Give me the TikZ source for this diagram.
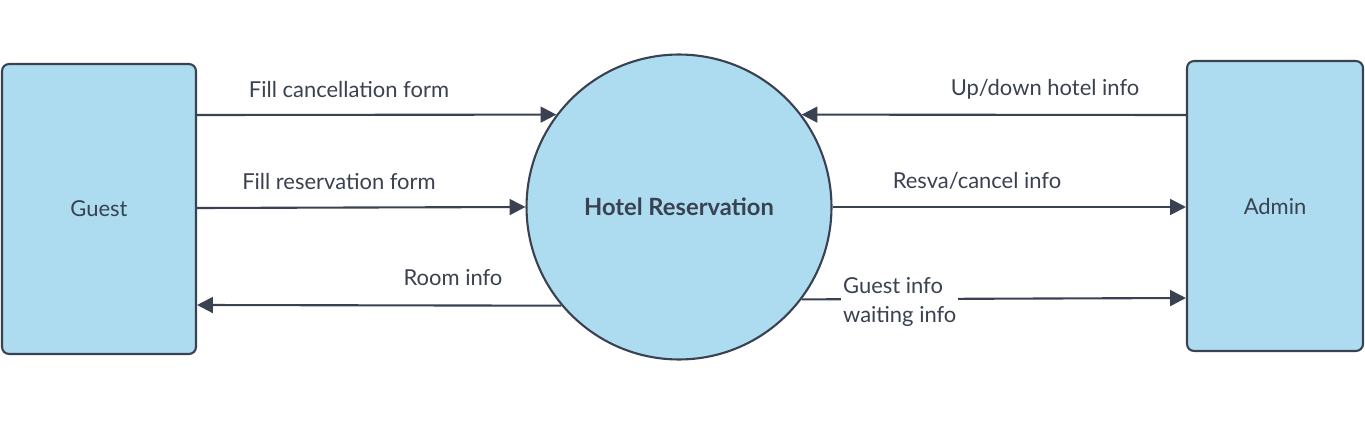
\documentclass[tikz,border=0pt]{standalone}
\usepackage{fontspec}
\setmainfont{Lato}
\usetikzlibrary{arrows.meta}
\definecolor{boxfill}{HTML}{ADDCF1}
\definecolor{edge}{HTML}{3A4150}
\begin{document}
\begin{tikzpicture}[x=0.02cm,y=-0.02cm,
	entity/.style={draw=edge,fill=boxfill,line width=1.2pt,rounded corners=4pt,
		minimum width=3.88cm,minimum height=5.8cm},
	process/.style={circle,draw=edge,fill=boxfill,line width=1.2pt,minimum size=6.1cm,
		font=\fontsize{13.5}{16}\selectfont\bfseries},
	flow/.style={draw=edge,line width=1.2pt,-{Triangle[length=9pt,width=9pt]}},
	lbl/.style={text=edge,font=\fontsize{12.5}{17}\selectfont,inner sep=0pt}]
	\useasboundingbox (0,0) rectangle (1365,432);
	\node[entity] (guest) at (99,209) {\textcolor{edge}{\fontsize{12.5}{15}\selectfont Guest}};
	\node[entity,minimum width=3.52cm] (admin) at (1275,206) {\textcolor{edge}{\fontsize{12.5}{15}\selectfont Admin}};
	\node[process] (hotel) at (679,207) {\textcolor{edge}{Hotel Reservation}};
	% guest side
	\draw[flow] (guest.east |- 0,115) -- (hotel.143);
	\draw[flow] (guest.east |- 0,208) -- (hotel.west);
	\draw[flow] (hotel.220) -- (guest.east |- 0,305);
	\node[lbl] (cancel) at (349,90) {Fill cancellation form};
	\node[lbl] (reserve) at (339,182) {Fill reservation form};
	\node[lbl] (room) at (453,278) {Room info};
	% admin side
	\draw[flow] (admin.west |- 0,115) -- (hotel.37);
	\draw[flow] (hotel.east) -- (admin.west |- 0,207);
	\draw[flow] (hotel.-37) -- (admin.west |- 0,298);
	\node[lbl] (updown) at (1045,89) {Up/down hotel info};
	\node[lbl] (resva) at (977,181) {Resva/cancel info};
	\node[lbl,align=left,anchor=west,fill=white,inner sep=1pt] (guestinfo) at (841,302) {Guest info\\waiting info};
\end{tikzpicture}
\end{document}
